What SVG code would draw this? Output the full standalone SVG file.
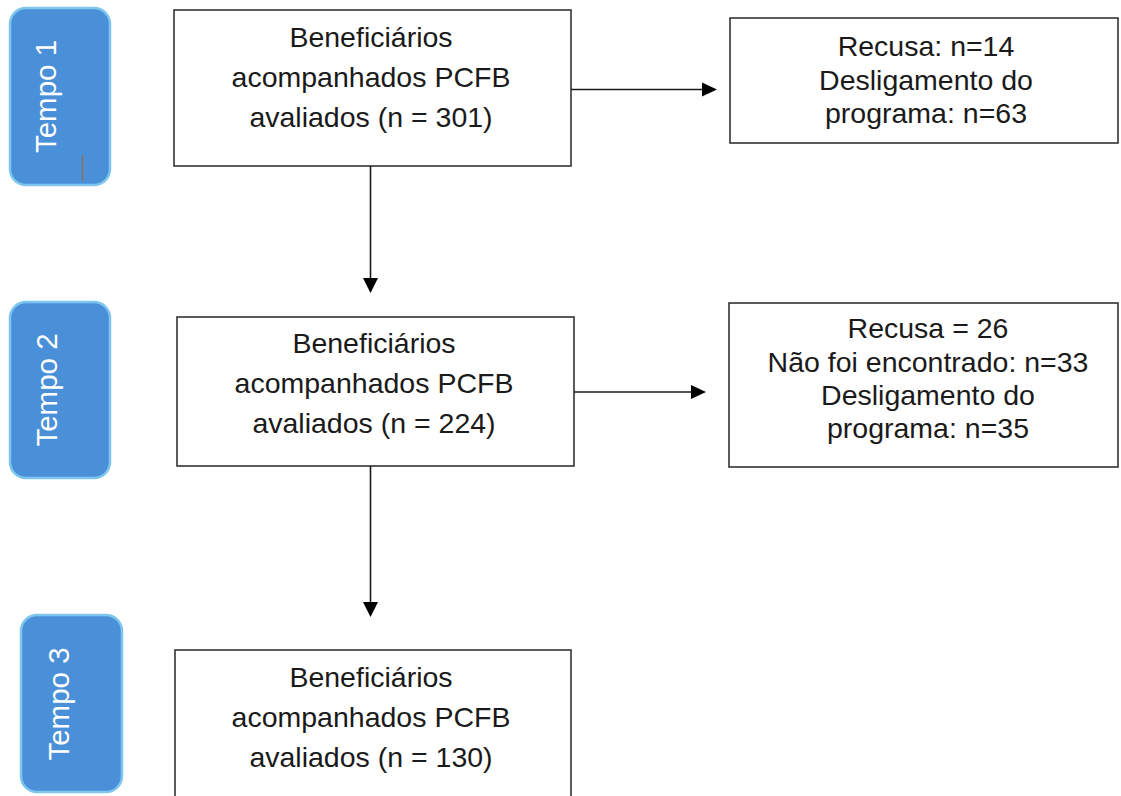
<svg xmlns="http://www.w3.org/2000/svg" width="1121" height="796" viewBox="0 0 1121 796">
<style>
.tempo{fill:#4A90D9;stroke:#7FC6EE;stroke-width:2.5}
.tt{font-family:"Liberation Sans",Arial,sans-serif;font-size:29.5px;fill:#fff;text-anchor:middle}
.box{fill:#fff;stroke:#333;stroke-width:1.6}
.t{font-family:"Liberation Sans",Arial,sans-serif;font-size:28.5px;fill:#1a1a1a;text-anchor:middle}
.ln{stroke:#1a1a1a;stroke-width:1.6;fill:none}
.ah{fill:#000}
</style>
<g id="tempo1">
<rect class="tempo" x="10" y="8" width="100" height="177" rx="16"/>
<text class="tt" transform="translate(56,96.5) rotate(-90)">Tempo 1</text>
<line x1="82.5" y1="155" x2="82.5" y2="181" stroke="#9A6B45" stroke-width="1.3"/>
</g>
<g id="tempo2">
<rect class="tempo" x="10" y="302" width="100" height="176" rx="16"/>
<text class="tt" transform="translate(57,390) rotate(-90)">Tempo 2</text>
</g>
<g id="tempo3">
<rect class="tempo" x="21" y="615" width="101" height="177" rx="16"/>
<text class="tt" transform="translate(69,704) rotate(-90)">Tempo 3</text>
</g>
<g id="box1">
<rect class="box" x="174" y="10" width="397" height="156"/>
<text class="t" x="371" y="47">Beneficiários</text>
<text class="t" x="371" y="87">acompanhados PCFB</text>
<text class="t" x="371" y="127">avaliados (n = 301)</text>
</g>
<g id="box2">
<rect class="box" x="177" y="317" width="397" height="149"/>
<text class="t" x="374" y="353">Beneficiários</text>
<text class="t" x="374" y="393">acompanhados PCFB</text>
<text class="t" x="374" y="433">avaliados (n = 224)</text>
</g>
<g id="box3">
<rect class="box" x="175" y="650" width="396" height="160"/>
<text class="t" x="371" y="687">Beneficiários</text>
<text class="t" x="371" y="727">acompanhados PCFB</text>
<text class="t" x="371" y="767">avaliados (n = 130)</text>
</g>
<g id="out1">
<rect class="box" x="730" y="18" width="388" height="125"/>
<text class="t" x="926" y="56">Recusa: n=14</text>
<text class="t" x="926" y="90">Desligamento do</text>
<text class="t" x="926" y="123">programa: n=63</text>
</g>
<g id="out2">
<rect class="box" x="729" y="303" width="389" height="164"/>
<text class="t" x="928" y="338">Recusa = 26</text>
<text class="t" x="928" y="372">Não foi encontrado: n=33</text>
<text class="t" x="928" y="405">Desligamento do</text>
<text class="t" x="928" y="438">programa: n=35</text>
</g>
<g id="connectors">
<line class="ln" x1="571" y1="89.5" x2="704" y2="89.5"/>
<polygon class="ah" points="717,89.5 702,82.5 702,96.5"/>
<line class="ln" x1="574" y1="392" x2="693" y2="392"/>
<polygon class="ah" points="706,392 691,385 691,399"/>
<line class="ln" x1="370.5" y1="166" x2="370.5" y2="280"/>
<polygon class="ah" points="370.5,293 363,278 378,278"/>
<line class="ln" x1="370.5" y1="466" x2="370.5" y2="604"/>
<polygon class="ah" points="370.5,617 363,602 378,602"/>
</g>
</svg>
